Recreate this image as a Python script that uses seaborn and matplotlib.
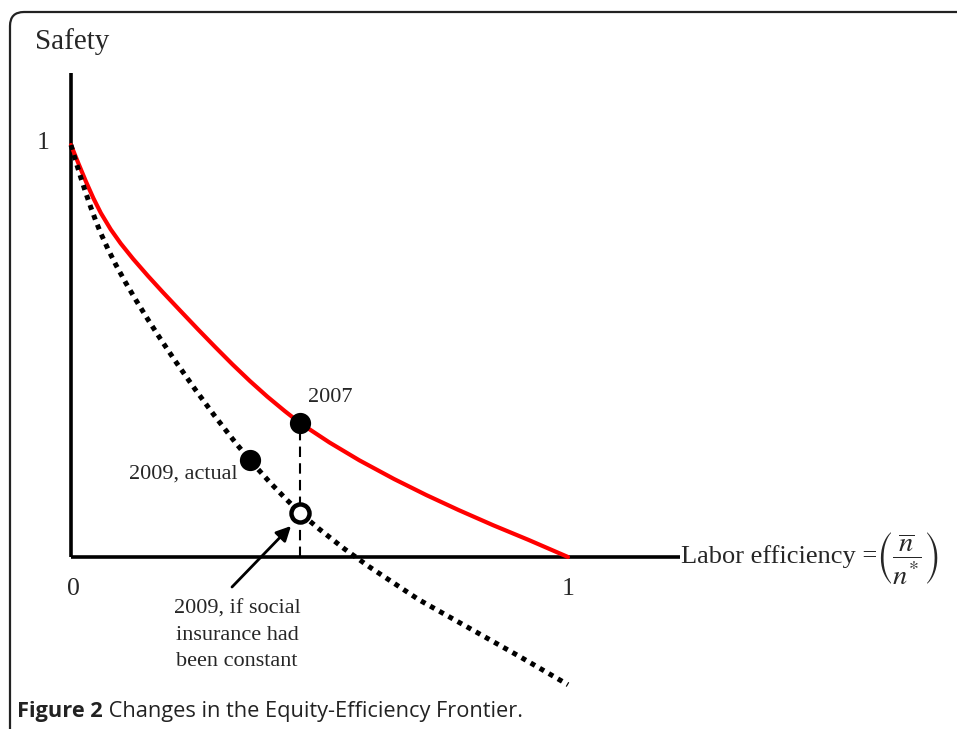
import numpy as np
import pandas as pd
import matplotlib
matplotlib.use("Agg")
import matplotlib.pyplot as plt
import matplotlib.patches as mpatches
from matplotlib.transforms import IdentityTransform
import seaborn as sns

# ---- data ----
red_x = [0.0, 0.015, 0.03, 0.045, 0.06, 0.08, 0.10, 0.125, 0.155, 0.185, 0.22, 0.255, 0.29,
         0.325, 0.36, 0.395, 0.43, 0.461, 0.52, 0.58, 0.65, 0.715, 0.78, 0.85, 0.92, 1.0]
red_y = [1.0, 0.955, 0.9115, 0.871, 0.835, 0.795, 0.761, 0.7235, 0.682, 0.6424, 0.5976, 0.5532,
         0.5098, 0.4674, 0.4271, 0.3893, 0.3543, 0.325, 0.278, 0.2348, 0.1893, 0.1503, 0.1139,
         0.0768, 0.0418, 0.0]

dot_x = [0.0, 0.01, 0.02, 0.03, 0.04, 0.05, 0.06, 0.075, 0.09, 0.11, 0.13, 0.155, 0.18, 0.21,
         0.25, 0.29, 0.33, 0.36, 0.40, 0.43, 0.461, 0.50, 0.55, 0.60, 0.70, 0.80, 0.90, 1.0]
dot_y = [1.0, 0.959, 0.920, 0.883, 0.848, 0.8155, 0.7855, 0.7458, 0.7098, 0.6658, 0.6248,
         0.576, 0.5293, 0.4753, 0.4065, 0.3409, 0.2789, 0.235, 0.1814, 0.1439, 0.107, 0.0673,
         0.0198, -0.0237, -0.1037, -0.1717, -0.2397, -0.31]

pt_labels = ["2007", "2009, actual", "2009, if social\ninsurance had\nbeen constant"]
pt_x = [0.461, 0.360, 0.461]
pt_y = [0.325, 0.235, 0.107]

tick_labels = ["0", "1"]
caption_bold = "Figure 2"
caption_rest = " Changes in the Equity-Efficiency Frontier."

# ---- figure ----
sns.set_style("white")
plt.rcParams["font.family"] = ["Liberation Serif", "DejaVu Serif"]
plt.rcParams["mathtext.fontset"] = "stix"

W, H = 957, 729
fig = plt.figure(figsize=(W / 100, H / 100), dpi=100)
ax = fig.add_axes([0, 0, 1, 1])
ox, oy, sx, sy = 71, 557, 497, 412  # pixel origin and scale
ax.set_xlim(-ox / sx, (W - ox) / sx)
ax.set_ylim((oy - H) / sy, oy / sy)
ax.axis("off")

def px(x, y):
    return (x - ox) / sx, (oy - y) / sy

# axes lines
ax.plot([0, 0], [0, px(0, 73)[1]], color="black", lw=2.6, solid_capstyle="butt")
ax.plot([0, px(680, 0)[0]], [0, 0], color="black", lw=2.6, solid_capstyle="butt")

red_df = pd.DataFrame({"x": red_x, "y": red_y})
dot_df = pd.DataFrame({"x": dot_x, "y": dot_y})
sns.lineplot(data=red_df, x="x", y="y", ax=ax, color="#ff0000", lw=3.0, sort=False)
sns.lineplot(data=dot_df, x="x", y="y", ax=ax, color="black", lw=3.6, sort=False,
             linestyle=(0, (1, 1.1)))

# dashed vertical
ax.plot([pt_x[0], pt_x[0]], [0, pt_y[0]], color="black", lw=1.5, linestyle=(0, (5, 3)))

# points
sns.scatterplot(x=pt_x[:2], y=pt_y[:2], ax=ax, color="black", s=200, edgecolor="black", zorder=5)
ax.plot(pt_x[2], pt_y[2], marker="o", markersize=13, markerfacecolor="white",
        markeredgecolor="black", markeredgewidth=3.2, zorder=5)

# labels
fs = 16
ax.text(*px(35, 42), "Safety", fontsize=21, ha="left", va="center")
ax.text(*px(43, 143), "1", fontsize=18.5, ha="center", va="center")
ax.text(*px(73, 589), tick_labels[0], fontsize=18.5, ha="center", va="center")
ax.text(*px(568, 589), tick_labels[1], fontsize=18.5, ha="center", va="center")
ax.text(*px(330, 397), pt_labels[0], fontsize=fs, ha="center", va="center")
ax.text(*px(238, 474), pt_labels[1], fontsize=fs, ha="right", va="center")
ax.text(*px(237, 635), pt_labels[2], fontsize=fs, ha="center", va="center", linespacing=1.5)
ax.text(*px(681, 557), "Labor efficiency =", fontsize=19, ha="left", va="center")
ax.text(*px(876, 558), r"$\left(\dfrac{\overline{n}}{n^{*}}\right)$",
        fontsize=20.5, ha="left", va="center")

# arrow
ax.annotate("", xy=px(291, 526), xytext=px(232, 587),
            arrowprops=dict(arrowstyle="-|>", lw=2.0, color="black", mutation_scale=22,
                            shrinkA=0, shrinkB=0))

# caption
cfs = 15.7
t = fig.text(17 / W, 1 - 712 / H, caption_bold, fontsize=cfs, fontweight="bold",
             family="Open Sans", color="#222222", va="center", ha="left")
fig.canvas.draw()
bb = t.get_window_extent()
fig.text((bb.x1) / W, 1 - 712 / H, caption_rest, fontsize=cfs, family="Open Sans",
         color="#222222", va="center", ha="left")

# frame with rounded top-left corner
frame = mpatches.FancyBboxPatch((10, -200), 1200, (H - 12) + 200,
                                boxstyle="round,pad=0,rounding_size=14",
                                transform=IdentityTransform(), fill=False,
                                edgecolor="#222222", lw=1.6)
fig.patches.append(frame)

fig.savefig("out.png", dpi=100)
